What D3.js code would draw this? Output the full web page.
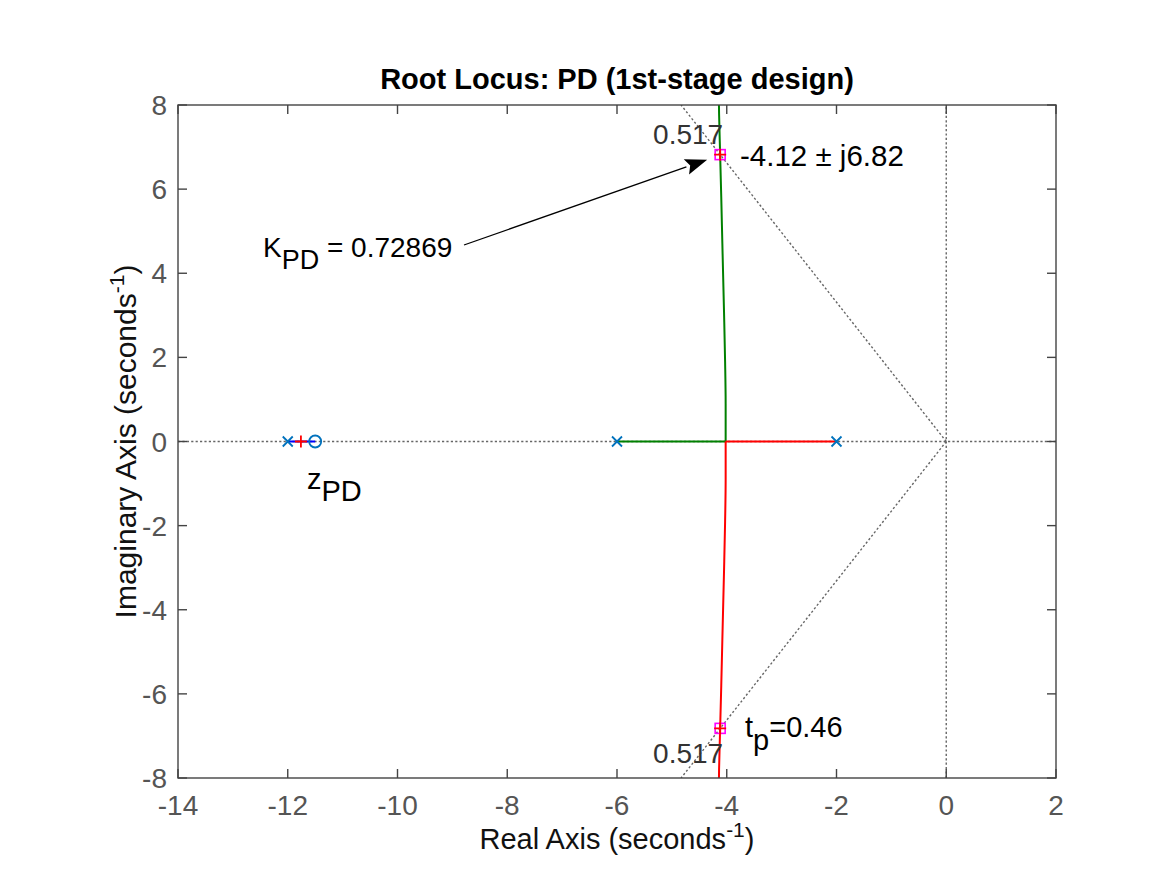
<!DOCTYPE html>
<html>
<head>
<meta charset="utf-8">
<script src="https://cdn.jsdelivr.net/npm/d3@7"></script>
<style>
  html, body { margin: 0; padding: 0; background: #fff; }
  svg { display: block; font-family: "Liberation Sans", Arial, Helvetica, sans-serif; }
</style>
</head>
<body>
<svg id="chart" width="1167" height="875"></svg>
<script>
// ---- data ----
const xTicks = [-14, -12, -10, -8, -6, -4, -2, 0, 2];
const yTicks = [-8, -6, -4, -2, 0, 2, 4, 6, 8];
const openLoopPoles = [-12, -6, -2];
const openLoopZeros = [-11.5];
// locus branches [re, im]
const blueBranch = [[-12, 0], [-11.5, 0]];
const greenBranch = [[-6, 0], [-4.02, 0], [-4.02, 0.9], [-4.03, 1.9], [-4.05, 3.1], [-4.08, 4.7], [-4.10, 5.8], [-4.12, 6.8], [-4.14, 7.8], [-4.15, 8.8]];
const redBranch = [[-2, 0], [-4.02, 0], [-4.02, -0.9], [-4.03, -1.9], [-4.05, -3.1], [-4.08, -4.7], [-4.10, -5.8], [-4.12, -6.8], [-4.14, -7.8], [-4.15, -8.8]];
const closedLoopPoles = [[-4.12, 6.82], [-4.12, -6.82], [-11.76, 0]];
const designPoints = [[-4.12, 6.82], [-4.12, -6.82]];
const zeta = 0.517;
const zetaLabel = "0.517";
const titleText = "Root Locus: PD (1st-stage design)";

// ---- layout ----
const svg = d3.select("#chart");
const L = 178, R = 1056, T = 105, B = 778;
const x = d3.scaleLinear().domain([-14, 2]).range([L, R]);
const y = d3.scaleLinear().domain([-8, 8]).range([B, T]);
const axisColor = "#444";
const tickColor = "#555";

svg.append("defs").append("clipPath").attr("id", "clip")
  .append("rect").attr("x", L).attr("y", T).attr("width", R - L).attr("height", B - T);

svg.append("rect").attr("x", L).attr("y", T).attr("width", R - L).attr("height", B - T).attr("fill", "#fff");

const plot = svg.append("g").attr("clip-path", "url(#clip)");

// grid: dotted lines
const dotted = { stroke: "#666", width: 1.4, dash: "2.2,2.2" };
function dline(x1, y1, x2, y2) {
  plot.append("line").attr("x1", x(x1)).attr("y1", y(y1)).attr("x2", x(x2)).attr("y2", y(y2))
    .attr("stroke", dotted.stroke).attr("stroke-width", dotted.width).attr("stroke-dasharray", dotted.dash);
}
dline(-14, 0, 2, 0);
dline(0, -8, 0, 8);
const slope = zeta / Math.sqrt(1 - zeta * zeta);
dline(0, 0, -8 * slope, 8);
dline(0, 0, -8 * slope, -8);

// locus branches
const straight = d3.line().x(d => x(d[0])).y(d => y(d[1]));
const curved = d3.line().x(d => x(d[0])).y(d => y(d[1])).curve(d3.curveMonotoneY);
plot.append("path").datum(blueBranch).attr("d", straight).attr("fill", "none").attr("stroke", "#0000ff").attr("stroke-width", 2);
plot.append("path").datum(greenBranch.slice(1)).attr("d", curved).attr("fill", "none").attr("stroke", "#008000").attr("stroke-width", 2);
plot.append("path").datum(greenBranch.slice(0, 2)).attr("d", straight).attr("fill", "none").attr("stroke", "#008000").attr("stroke-width", 2);
plot.append("path").datum(redBranch.slice(1)).attr("d", curved).attr("fill", "none").attr("stroke", "#ff0000").attr("stroke-width", 2);
plot.append("path").datum(redBranch.slice(0, 2)).attr("d", straight).attr("fill", "none").attr("stroke", "#ff0000").attr("stroke-width", 2);

// markers
const mBlue = "#0072BD";
const s = 5;
openLoopPoles.forEach(p => {
  const cx = x(p), cy = y(0);
  plot.append("path").attr("d", `M${cx - s},${cy - s}L${cx + s},${cy + s}M${cx - s},${cy + s}L${cx + s},${cy - s}`)
    .attr("stroke", mBlue).attr("stroke-width", 1.8).attr("fill", "none");
});
openLoopZeros.forEach(z => {
  plot.append("circle").attr("cx", x(z)).attr("cy", y(0)).attr("r", 6)
    .attr("stroke", mBlue).attr("stroke-width", 1.8).attr("fill", "none");
});
designPoints.forEach(p => {
  plot.append("rect").attr("x", x(p[0]) - 5).attr("y", y(p[1]) - 5).attr("width", 10).attr("height", 10)
    .attr("stroke", "#ff00ff").attr("stroke-width", 1.6).attr("fill", "none");
});
closedLoopPoles.forEach(p => {
  const cx = x(p[0]), cy = y(p[1]), r = 6;
  plot.append("path").attr("d", `M${cx - r},${cy}L${cx + r},${cy}M${cx},${cy - r}L${cx},${cy + r}`)
    .attr("stroke", "#ff0000").attr("stroke-width", 1.8).attr("fill", "none");
});

// axes box and ticks
const ax = svg.append("g");
ax.append("rect").attr("x", L).attr("y", T).attr("width", R - L).attr("height", B - T)
  .attr("fill", "none").attr("stroke", axisColor).attr("stroke-width", 1.4);
const tl = 9;
xTicks.forEach(t => {
  ax.append("line").attr("x1", x(t)).attr("x2", x(t)).attr("y1", B).attr("y2", B - tl).attr("stroke", axisColor).attr("stroke-width", 1.4);
  ax.append("line").attr("x1", x(t)).attr("x2", x(t)).attr("y1", T).attr("y2", T + tl).attr("stroke", axisColor).attr("stroke-width", 1.4);
  ax.append("text").attr("x", x(t)).attr("y", B + 37).attr("text-anchor", "middle")
    .attr("font-size", 28).attr("fill", tickColor).text(t);
});
yTicks.forEach(t => {
  ax.append("line").attr("y1", y(t)).attr("y2", y(t)).attr("x1", L).attr("x2", L + tl).attr("stroke", axisColor).attr("stroke-width", 1.4);
  ax.append("line").attr("y1", y(t)).attr("y2", y(t)).attr("x1", R).attr("x2", R - tl).attr("stroke", axisColor).attr("stroke-width", 1.4);
  ax.append("text").attr("x", L - 11).attr("y", y(t) + 10).attr("text-anchor", "end")
    .attr("font-size", 28).attr("fill", tickColor).text(t);
});

// title
svg.append("text").attr("x", (L + R) / 2).attr("y", 89).attr("text-anchor", "middle")
  .attr("font-size", 29).attr("font-weight", "bold").attr("fill", "#000").text(titleText);

// x label
const xl = svg.append("text").attr("x", (L + R) / 2).attr("y", 849).attr("text-anchor", "middle")
  .attr("font-size", 29).attr("fill", "#111");
xl.append("tspan").text("Real Axis (seconds");
xl.append("tspan").attr("dy", -12).attr("font-size", 21).text("-1");
xl.append("tspan").attr("dy", 12).text(")");

// y label
const yl = svg.append("text").attr("transform", `translate(136,${(T + B) / 2}) rotate(-90)`).attr("text-anchor", "middle")
  .attr("font-size", 30).attr("fill", "#111");
yl.append("tspan").text("Imaginary Axis (seconds");
yl.append("tspan").attr("dy", -12).attr("font-size", 21).text("-1");
yl.append("tspan").attr("dy", 12).text(")");

// annotations
const ann = svg.append("g").attr("font-size", 29).attr("fill", "#222");
ann.append("text").attr("x", x(designPoints[0][0]) + 3).attr("y", 144).attr("text-anchor", "end").attr("font-size", 28).attr("fill", "#333").text(zetaLabel);
ann.append("text").attr("x", x(designPoints[1][0]) + 3).attr("y", 763).attr("text-anchor", "end").attr("font-size", 28).attr("fill", "#333").text(zetaLabel);
ann.append("text").attr("x", 740).attr("y", 166).attr("fill", "#000").attr("font-size", 29.5)
  .text(`${designPoints[0][0].toFixed(2)} \u00B1 j${designPoints[0][1].toFixed(2)}`);
const tp = ann.append("text").attr("x", 745).attr("y", 737).attr("fill", "#000");
tp.append("tspan").text("t");
tp.append("tspan").attr("dy", 13).text("p");
tp.append("tspan").attr("dy", -13).text("=0.46");
const kp = ann.append("text").attr("x", 263).attr("y", 257).attr("fill", "#000").attr("font-size", 28);
kp.append("tspan").text("K");
kp.append("tspan").attr("dy", 12).attr("font-size", 27).text("PD");
kp.append("tspan").attr("dy", -12).text(" = 0.72869");
const zp = ann.append("text").attr("x", 307).attr("y", 489).attr("fill", "#000");
zp.append("tspan").text("z");
zp.append("tspan").attr("dy", 12).text("PD");

// arrow
const x1 = 464, y1 = 245, x2 = x(designPoints[0][0]) - 13, y2 = y(designPoints[0][1]) + 5;
const ang = Math.atan2(y2 - y1, x2 - x1);
const hl = 22, hw = 8;
const bx = x2 - hl * Math.cos(ang), by = y2 - hl * Math.sin(ang);
svg.append("line").attr("x1", x1).attr("y1", y1).attr("x2", bx).attr("y2", by).attr("stroke", "#000").attr("stroke-width", 1.3);
svg.append("path").attr("d", `M${x2},${y2}L${bx - hw * Math.sin(ang)},${by + hw * Math.cos(ang)}L${bx + 4 * Math.cos(ang)},${by + 4 * Math.sin(ang)}L${bx + hw * Math.sin(ang)},${by - hw * Math.cos(ang)}Z`)
  .attr("fill", "#000");
</script>
</body>
</html>
